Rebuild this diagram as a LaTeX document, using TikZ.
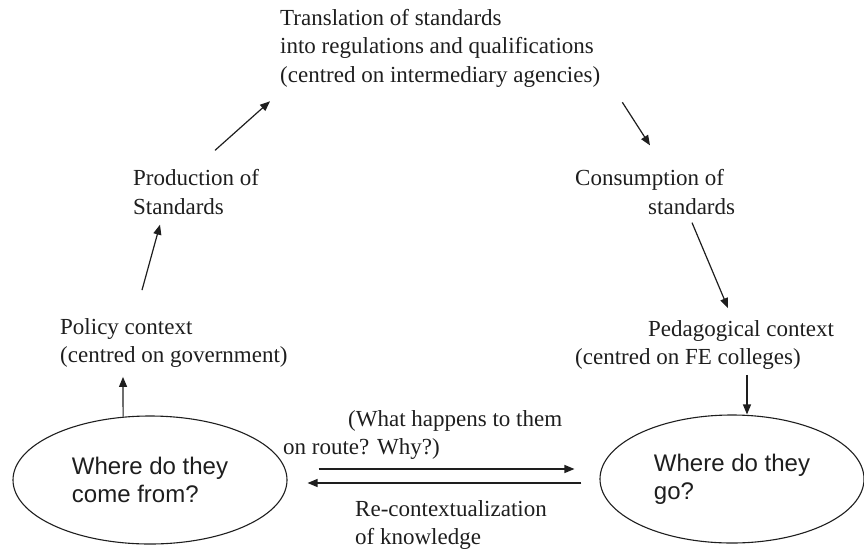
\documentclass[tikz,border=0pt]{standalone}
\usepackage{fontspec}
\setmainfont{Liberation Serif}
\setsansfont{Liberation Sans}
\usepackage{tikz}
\usetikzlibrary{arrows.meta, shapes.geometric, positioning, calc}
\definecolor{inkgrey}{RGB}{30, 30, 30}

\begin{document}
\begin{tikzpicture}[x=1pt, y=-1pt,
    every node/.style={inner sep=0pt, text=inkgrey},
    txt/.style={font=\fontsize{23}{28.5}\selectfont, align=left, anchor=west},
    oval/.style={draw=inkgrey, line width=1.1pt, ellipse, font=\sffamily\fontsize{24}{28}\selectfont, align=left},
    arr/.style={-{Triangle[length=10pt, width=8pt]}, line width=1.2pt, draw=inkgrey}]
        \useasboundingbox (0,0) rectangle (864,552);
        \node[txt] (trans)  at (280,48)  {Translation of standards\\into regulations and qualifications\\(centred on intermediary agencies)};
        \node[txt] (prod)   at (133,192) {Production of\\Standards};
        \node[txt] (policy) at (60,343)  {Policy context\\(centred on government)};
        \node[txt] (cons)   at (575,192) {Consumption of\\\hspace*{73pt}standards};
        \node[txt] (ped)    at (575,345) {\hspace*{73pt}Pedagogical context\\(centred on FE colleges)};
        \node[txt] (route)  at (283,435) {\hspace*{65pt}(What happens to them\\on route? Why?)};
        \node[txt] (recon)  at (355,525) {Re-contextualization\\of knowledge};
        \node[oval, minimum width=274pt, minimum height=128pt] (lwhere) at (150,480) {Where do they\\come from?};
        \node[oval, minimum width=264pt, minimum height=128pt] (rwhere) at (732,479) {Where do they\\go?};
        \draw[arr] (lwhere.113) -- ($(policy.south west)+(63,9)$);
        \draw[arr] ($(policy.north west)+(82,-28)$) -- ($(prod.south west)+(27,10)$);
        \draw[arr] ($(prod.north west)+(82,-19)$) -- ($(trans.south west)+(-10,14)$);
        \draw[arr] ($(trans.south east)+(22,15)$) -- ($(cons.north west)+(75,-24)$);
        \draw[arr] ($(cons.south west)+(117,8)$) -- ($(ped.north west)+(153,-12)$);
        \draw[arr] ($(ped.south west)+(172,5)$) -- (rwhere.north -| {$(ped.south west)+(172,0)$});
        \draw[arr] ($(lwhere.east)+(31,-11)$) -- ($(rwhere.west)+(-25,-10)$);
        \draw[arr] ($(rwhere.west)+(-18,4)$) -- ($(lwhere.east)+(20,3)$);
      \end{tikzpicture}
\end{document}
